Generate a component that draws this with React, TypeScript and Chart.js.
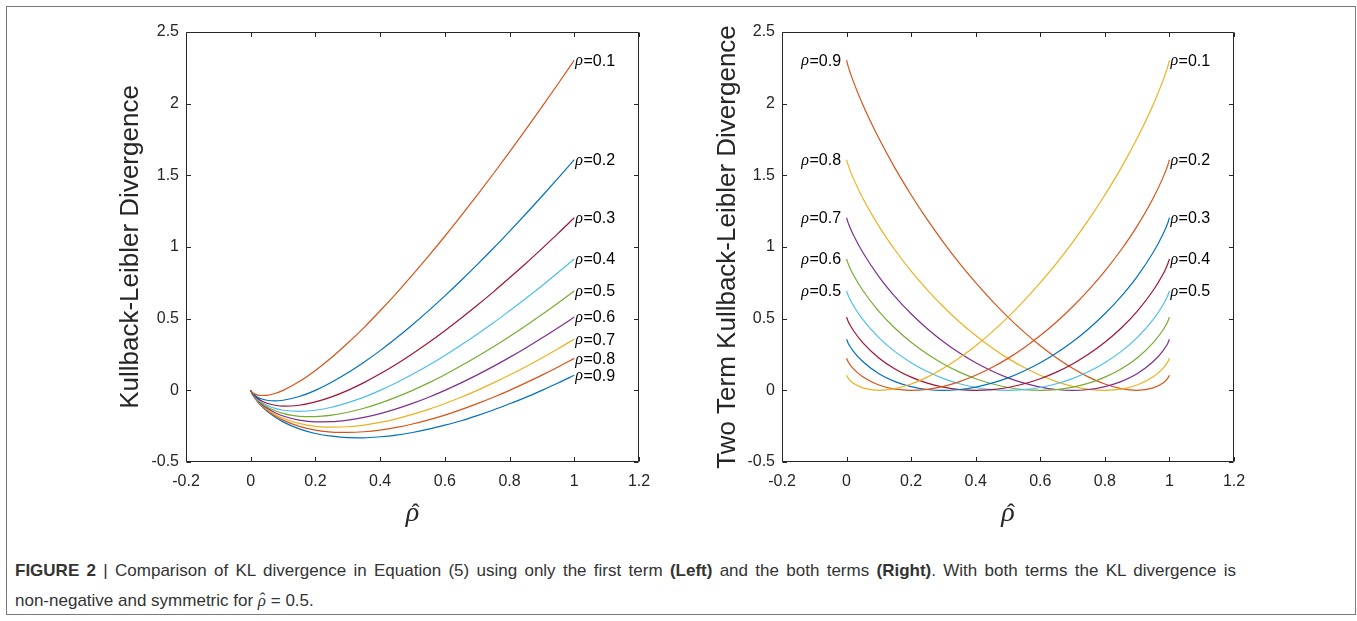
import { useEffect, useRef } from 'react';
import { Chart, registerables } from 'chart.js';

Chart.register(...registerables);

// ---------- data ----------
const RHO_LABELS = ['0.1', '0.2', '0.3', '0.4', '0.5', '0.6', '0.7', '0.8', '0.9'];

const X_TICKS = [-0.2, 0, 0.2, 0.4, 0.6, 0.8, 1, 1.2];
const X_TICK_LABELS = ['-0.2', '0', '0.2', '0.4', '0.6', '0.8', '1', '1.2'];
const Y_TICKS = [-0.5, 0, 0.5, 1, 1.5, 2, 2.5];
const Y_TICK_LABELS = ['-0.5', '0', '0.5', '1', '1.5', '2', '2.5'];

// Left panel: first term only
const LEFT_X = [0, 0.005, 0.01, 0.02, 0.03, 0.05, 0.075, 0.1, 0.15, 0.2, 0.25, 0.3, 0.35, 0.4, 0.45, 0.5, 0.55, 0.6, 0.65, 0.7, 0.75, 0.8, 0.85, 0.9, 0.95, 1];
const L01 = [0, -0.015, -0.023, -0.032, -0.036, -0.035, -0.022, 0, 0.061, 0.139, 0.229, 0.330, 0.438, 0.555, 0.677, 0.805, 0.938, 1.075, 1.217, 1.362, 1.511, 1.664, 1.819, 1.978, 2.139, 2.303];
const L02 = [0, -0.018, -0.030, -0.046, -0.057, -0.069, -0.074, -0.069, -0.043, 0, 0.056, 0.122, 0.196, 0.277, 0.365, 0.458, 0.556, 0.659, 0.766, 0.877, 0.991, 1.109, 1.230, 1.354, 1.480, 1.609];
const L03 = [0, -0.020, -0.034, -0.054, -0.069, -0.090, -0.104, -0.110, -0.104, -0.081, -0.046, 0, 0.054, 0.115, 0.182, 0.255, 0.333, 0.416, 0.503, 0.593, 0.687, 0.785, 0.885, 0.989, 1.095, 1.204];
const L04 = [0, -0.022, -0.037, -0.060, -0.078, -0.104, -0.126, -0.139, -0.147, -0.139, -0.118, -0.086, -0.047, 0, 0.053, 0.112, 0.175, 0.243, 0.316, 0.392, 0.471, 0.555, 0.641, 0.730, 0.822, 0.916];
const L05 = [0, -0.023, -0.039, -0.064, -0.084, -0.115, -0.142, -0.161, -0.181, -0.183, -0.173, -0.153, -0.125, -0.089, -0.047, 0, 0.052, 0.109, 0.171, 0.236, 0.304, 0.376, 0.451, 0.529, 0.610, 0.693];
const L06 = [0, -0.024, -0.041, -0.068, -0.090, -0.124, -0.156, -0.179, -0.208, -0.220, -0.219, -0.208, -0.189, -0.162, -0.129, -0.091, -0.048, 0, 0.052, 0.108, 0.167, 0.230, 0.296, 0.365, 0.437, 0.511];
const L07 = [0, -0.025, -0.042, -0.071, -0.094, -0.132, -0.168, -0.195, -0.231, -0.251, -0.257, -0.254, -0.243, -0.224, -0.199, -0.168, -0.133, -0.092, -0.048, 0, 0.052, 0.107, 0.165, 0.226, 0.290, 0.357];
const L08 = [0, -0.025, -0.044, -0.074, -0.099, -0.139, -0.178, -0.208, -0.251, -0.277, -0.291, -0.294, -0.289, -0.277, -0.259, -0.235, -0.206, -0.173, -0.135, -0.093, -0.048, 0, 0.052, 0.106, 0.163, 0.223];
const L09 = [0, -0.026, -0.045, -0.076, -0.102, -0.145, -0.186, -0.220, -0.269, -0.301, -0.320, -0.330, -0.331, -0.324, -0.312, -0.294, -0.271, -0.243, -0.212, -0.176, -0.137, -0.094, -0.049, 0, 0.051, 0.105];

// Right panel: both terms
const RIGHT_X = [0, 0.005, 0.01, 0.02, 0.05, 0.1, 0.15, 0.2, 0.25, 0.3, 0.35, 0.4, 0.45, 0.5, 0.55, 0.6, 0.65, 0.7, 0.75, 0.8, 0.85, 0.9, 0.95, 0.98, 0.99, 0.995, 1];
const R01 = [0.105, 0.085, 0.071, 0.051, 0.017, 0, 0.012, 0.044, 0.092, 0.154, 0.227, 0.311, 0.406, 0.511, 0.626, 0.751, 0.886, 1.033, 1.191, 1.363, 1.550, 1.758, 1.994, 2.161, 2.225, 2.260, 2.303];
const R02 = [0.223, 0.199, 0.181, 0.153, 0.094, 0.037, 0.008, 0, 0.007, 0.028, 0.061, 0.105, 0.159, 0.223, 0.297, 0.382, 0.477, 0.583, 0.701, 0.832, 0.979, 1.146, 1.342, 1.484, 1.540, 1.571, 1.609];
const R03 = [0.357, 0.329, 0.309, 0.276, 0.201, 0.116, 0.061, 0.026, 0.006, 0, 0.006, 0.023, 0.050, 0.087, 0.135, 0.192, 0.260, 0.339, 0.430, 0.534, 0.654, 0.794, 0.963, 1.089, 1.139, 1.168, 1.204];
const R04 = [0.511, 0.481, 0.459, 0.421, 0.333, 0.226, 0.149, 0.092, 0.050, 0.022, 0.005, 0, 0.005, 0.020, 0.046, 0.081, 0.127, 0.184, 0.253, 0.335, 0.433, 0.551, 0.698, 0.810, 0.856, 0.883, 0.916];
const R05 = [0.693, 0.662, 0.637, 0.595, 0.495, 0.368, 0.270, 0.193, 0.131, 0.082, 0.046, 0.020, 0.005, 0, 0.005, 0.020, 0.046, 0.082, 0.131, 0.193, 0.270, 0.368, 0.495, 0.595, 0.637, 0.662, 0.693];
const R06 = [0.916, 0.883, 0.856, 0.810, 0.698, 0.551, 0.433, 0.335, 0.253, 0.184, 0.127, 0.081, 0.046, 0.020, 0.005, 0, 0.005, 0.022, 0.050, 0.092, 0.149, 0.226, 0.333, 0.421, 0.459, 0.481, 0.511];
const R07 = [1.204, 1.168, 1.139, 1.089, 0.963, 0.794, 0.654, 0.534, 0.430, 0.339, 0.260, 0.192, 0.135, 0.087, 0.050, 0.023, 0.006, 0, 0.006, 0.026, 0.061, 0.116, 0.201, 0.276, 0.309, 0.329, 0.357];
const R08 = [1.609, 1.571, 1.540, 1.484, 1.342, 1.146, 0.979, 0.832, 0.701, 0.583, 0.477, 0.382, 0.297, 0.223, 0.159, 0.105, 0.061, 0.028, 0.007, 0, 0.008, 0.037, 0.094, 0.153, 0.181, 0.199, 0.223];
const R09 = [2.303, 2.260, 2.225, 2.161, 1.994, 1.758, 1.550, 1.363, 1.191, 1.033, 0.886, 0.751, 0.626, 0.511, 0.406, 0.311, 0.227, 0.154, 0.092, 0.044, 0.012, 0, 0.017, 0.051, 0.071, 0.085, 0.105];

// ---------- styles ----------
const BLUE = '#0072BD';
const ORANGE = '#D95319';
const YELLOW = '#EDB120';
const PURPLE = '#7E2F8E';
const GREEN = '#77AC30';
const LIGHTBLUE = '#4DBEEE';
const DARKRED = '#A2142F';

const LEFT_COLORS = [ORANGE, BLUE, DARKRED, LIGHTBLUE, GREEN, PURPLE, YELLOW, ORANGE, BLUE];
const RIGHT_COLORS = [YELLOW, ORANGE, BLUE, DARKRED, LIGHTBLUE, GREEN, PURPLE, YELLOW, ORANGE];

const AXIS = '#262626';
const SANS = '"Liberation Sans", Arial, Helvetica, sans-serif';
const SERIF = '"Liberation Serif", "Times New Roman", serif';
const TICK_LEN = 4.5;

type Side = 'left' | 'right';
type LabelSpec = { series: number; side: Side };

interface PanelSpec {
  xs: number[];
  series: number[][];
  colors: string[];
  labels: LabelSpec[];
  yTitle: string;
  left: number;
  top: number;
  width: number;
  height: number;
  area: { left: number; top: number; right: number; bottom: number };
  yTitleX: number;
  xTitleY: number;
}

function drawRhoLabel(ctx: CanvasRenderingContext2D, text: string, x: number, y: number, align: Side) {
  const rhoFont = `italic 16px ${SERIF}`;
  const restFont = `16px ${SANS}`;
  const rest = '=' + text;
  ctx.font = rhoFont;
  const wr = ctx.measureText('ρ').width;
  ctx.font = restFont;
  const wt = ctx.measureText(rest).width;
  const x0 = align === 'left' ? x : x - wr - wt;
  ctx.textAlign = 'left';
  ctx.textBaseline = 'middle';
  ctx.fillStyle = '#000000';
  ctx.font = rhoFont;
  ctx.fillText('ρ', x0, y);
  ctx.font = restFont;
  ctx.fillText(rest, x0 + wr + 0.5, y);
}

function drawRhoHat(ctx: CanvasRenderingContext2D, cx: number, baseline: number) {
  ctx.textBaseline = 'alphabetic';
  ctx.textAlign = 'center';
  ctx.font = `italic 28px ${SERIF}`;
  ctx.fillText('ρ', cx, baseline);
  ctx.font = `24px ${SERIF}`;
  ctx.fillText('ˆ', cx + 3, baseline - 1);
}

function Panel({ spec }: { spec: PanelSpec }) {
  const ref = useRef<HTMLCanvasElement>(null);
  useEffect(() => {
    const canvas = ref.current;
    if (!canvas) return;
    const a = spec.area;
    const plugin = {
      id: 'matlabAxes',
      afterDatasetsDraw(chart: any) {
        const { ctx, chartArea: ca, scales } = chart;
        const xs = scales.x;
        const ys = scales.y;
        ctx.save();
        // box
        ctx.strokeStyle = AXIS;
        ctx.lineWidth = 1;
        const L = Math.round(ca.left) + 0.5;
        const T = Math.round(ca.top) + 0.5;
        const R = Math.round(ca.right) - 0.5;
        const B = Math.round(ca.bottom) - 0.5;
        ctx.beginPath();
        ctx.rect(L, T, R - L, B - T);
        ctx.stroke();
        // inward ticks on all four sides
        ctx.beginPath();
        for (const t of xs.ticks) {
          const px = Math.round(xs.getPixelForValue(t.value)) + 0.5;
          ctx.moveTo(px, B);
          ctx.lineTo(px, B - TICK_LEN);
          ctx.moveTo(px, T);
          ctx.lineTo(px, T + TICK_LEN);
        }
        for (const t of ys.ticks) {
          const py = Math.round(ys.getPixelForValue(t.value)) + 0.5;
          ctx.moveTo(L, py);
          ctx.lineTo(L + TICK_LEN, py);
          ctx.moveTo(R, py);
          ctx.lineTo(R - TICK_LEN, py);
        }
        ctx.stroke();
        // curve labels
        for (const lab of spec.labels) {
          const data = spec.series[lab.series];
          if (lab.side === 'right') {
            const n = data.length - 1;
            drawRhoLabel(ctx, RHO_LABELS[lab.series], xs.getPixelForValue(spec.xs[n]) + 1, ys.getPixelForValue(data[n]) + 1, 'left');
          } else {
            drawRhoLabel(ctx, RHO_LABELS[lab.series], xs.getPixelForValue(spec.xs[0]) - 6, ys.getPixelForValue(data[0]) + 1, 'right');
          }
        }
        // y title
        ctx.fillStyle = AXIS;
        ctx.save();
        ctx.translate(spec.yTitleX, (ca.top + ca.bottom) / 2);
        ctx.rotate(-Math.PI / 2);
        ctx.font = `26px ${SANS}`;
        ctx.textAlign = 'center';
        ctx.textBaseline = 'alphabetic';
        ctx.fillText(spec.yTitle, 0, 0);
        ctx.restore();
        // x title (rho hat)
        drawRhoHat(ctx, (ca.left + ca.right) / 2, spec.xTitleY);
        ctx.restore();
      },
    };

    const chart = new Chart(canvas, {
      type: 'line',
      data: {
        datasets: spec.series.map((ys, i) => ({
          label: 'ρ=' + RHO_LABELS[i],
          data: spec.xs.map((x, j) => ({ x, y: ys[j] })),
          borderColor: spec.colors[i],
          backgroundColor: spec.colors[i],
          borderWidth: 1.2,
          pointRadius: 0,
          fill: false,
          cubicInterpolationMode: 'monotone' as const,
        })),
      },
      options: {
        animation: false,
        responsive: false,
        maintainAspectRatio: false,
        devicePixelRatio: 1,
        events: [],
        layout: { padding: { left: 0, top: a.top, right: spec.width - a.right, bottom: 0 } },
        plugins: { legend: { display: false }, tooltip: { enabled: false }, title: { display: false } },
        scales: {
          x: {
            type: 'linear',
            min: -0.2,
            max: 1.2,
            grid: { display: false, drawTicks: false },
            border: { display: false },
            afterBuildTicks: (s: any) => {
              s.ticks = X_TICKS.map((v) => ({ value: v }));
            },
            afterFit: (s: any) => {
              s.height = spec.height - a.bottom;
            },
            ticks: {
              padding: 10,
              color: AXIS,
              font: { family: SANS, size: 16 },
              maxRotation: 0,
              autoSkip: false,
              callback: (_v: any, i: number) => X_TICK_LABELS[i],
            },
          },
          y: {
            type: 'linear',
            min: -0.5,
            max: 2.5,
            grid: { display: false, drawTicks: false },
            border: { display: false },
            afterBuildTicks: (s: any) => {
              s.ticks = Y_TICKS.map((v) => ({ value: v }));
            },
            afterFit: (s: any) => {
              s.width = a.left;
            },
            ticks: {
              padding: 7,
              color: AXIS,
              font: { family: SANS, size: 16 },
              autoSkip: false,
              callback: (_v: any, i: number) => Y_TICK_LABELS[i],
            },
          },
        },
      } as any,
      plugins: [plugin],
    });
    return () => chart.destroy();
  }, [spec]);
  return (
    <canvas
      ref={ref}
      width={spec.width}
      height={spec.height}
      style={{ position: 'absolute', left: spec.left, top: spec.top, width: spec.width, height: spec.height }}
    />
  );
}

const LEFT_SPEC: PanelSpec = {
  xs: LEFT_X,
  series: [L01, L02, L03, L04, L05, L06, L07, L08, L09],
  colors: LEFT_COLORS,
  labels: [0, 1, 2, 3, 4, 5, 6, 7, 8].map((i) => ({ series: i, side: 'right' as Side })),
  yTitle: 'Kullback-Leibler Divergence',
  left: 100,
  top: 10,
  width: 590,
  height: 535,
  area: { left: 86, top: 22, right: 539, bottom: 452 },
  yTitleX: 38,
  xTitleY: 511,
};

const RIGHT_SPEC: PanelSpec = {
  xs: RIGHT_X,
  series: [R01, R02, R03, R04, R05, R06, R07, R08, R09],
  colors: RIGHT_COLORS,
  labels: [
    { series: 0, side: 'right' },
    { series: 1, side: 'right' },
    { series: 2, side: 'right' },
    { series: 3, side: 'right' },
    { series: 4, side: 'right' },
    { series: 4, side: 'left' },
    { series: 5, side: 'left' },
    { series: 6, side: 'left' },
    { series: 7, side: 'left' },
    { series: 8, side: 'left' },
  ],
  yTitle: 'Two Term Kullback-Leibler Divergence',
  left: 690,
  top: 10,
  width: 610,
  height: 535,
  area: { left: 92, top: 22, right: 544, bottom: 452 },
  yTitleX: 45,
  xTitleY: 511,
};

const captionStyle = {
  position: 'absolute' as const,
  left: 15,
  fontFamily: SANS,
  fontSize: 17,
  lineHeight: '30px',
  color: '#333333',
  whiteSpace: 'nowrap' as const,
};

export default function App() {
  return (
    <div style={{ position: 'absolute', left: 0, top: 0, width: 1357, height: 621, background: '#ffffff', overflow: 'hidden' }}>
      <div
        style={{
          position: 'absolute',
          left: 6,
          top: 6,
          width: 1348,
          height: 607,
          border: '1px solid #7a7a7a',
          boxSizing: 'content-box',
        }}
      />
      <Panel spec={LEFT_SPEC} />
      <Panel spec={RIGHT_SPEC} />
      <div style={{ ...captionStyle, top: 556, width: 1221, textAlign: 'justify', textAlignLast: 'justify' }}>
        <b>FIGURE 2</b> | Comparison of KL divergence in Equation (5) using only the first term <b>(Left)</b> and the both terms{' '}
        <b>(Right)</b>. With both terms the KL divergence is
      </div>
      <div style={{ ...captionStyle, top: 586 }}>
        non-negative and symmetric for{' '}
        <span style={{ position: 'relative', fontFamily: SERIF, fontStyle: 'italic' }}>
          ρ
          <span style={{ position: 'absolute', left: 2, top: -1, lineHeight: 1, fontStyle: 'normal' }}>ˆ</span>
        </span>{' '}
        = 0.5.
      </div>
    </div>
  );
}
